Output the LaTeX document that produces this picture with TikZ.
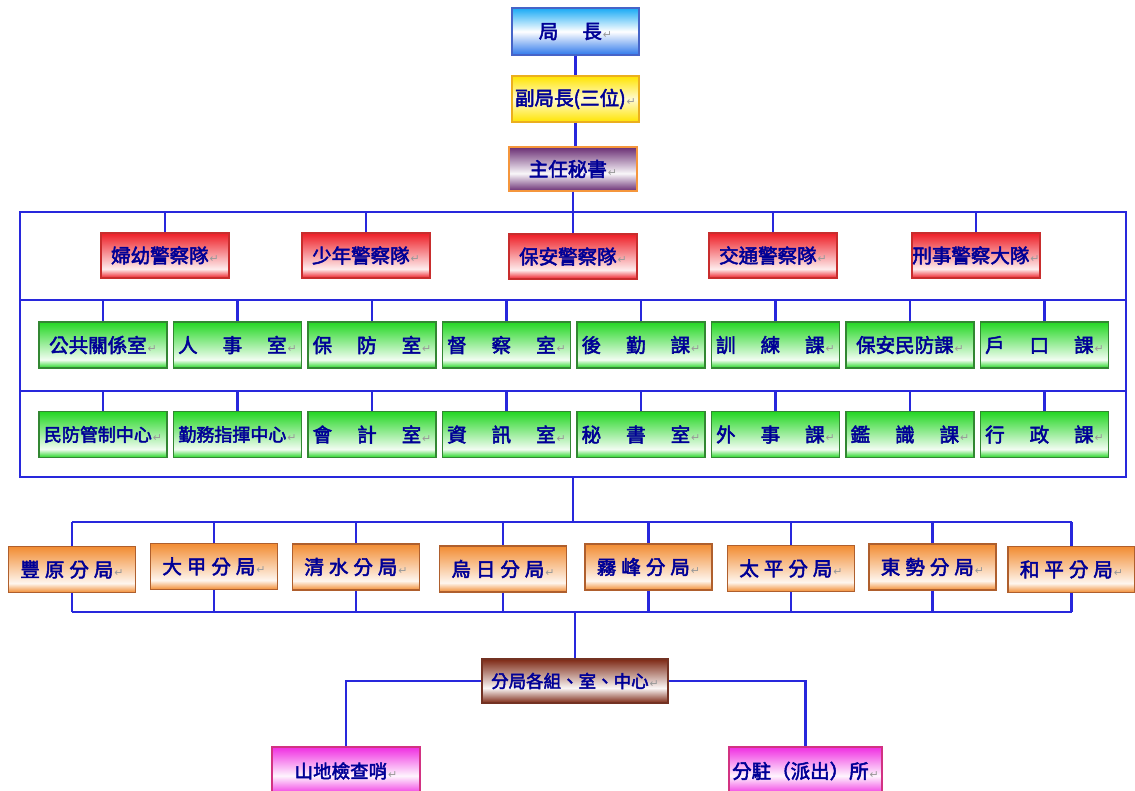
\documentclass[tikz,border=0pt]{standalone}
\usepackage{fontspec}
\newfontfamily\cjk{Noto Sans CJK TC}[FakeBold=2.6]
\newfontfamily\dvfont{DejaVu Sans}
\definecolor{lnblue}{RGB}{40,40,220}
\definecolor{txtblue}{RGB}{0,0,150}
\definecolor{cRed}{RGB}{238,30,38}
\definecolor{cRedB}{RGB}{200,45,45}
\definecolor{cGreen}{RGB}{35,215,35}
\definecolor{cGreenB}{RGB}{50,135,50}
\definecolor{cOrange}{RGB}{242,140,50}
\definecolor{cOrangeB}{RGB}{175,95,45}
\definecolor{cBlueTop}{RGB}{25,170,245}
\definecolor{cBlueBot}{RGB}{45,120,235}
\definecolor{cBlueB}{RGB}{70,100,200}
\definecolor{cYellow}{RGB}{255,228,0}
\definecolor{cYellowB}{RGB}{235,175,30}
\definecolor{cPurple}{RGB}{105,45,115}
\definecolor{cPurpleB}{RGB}{245,150,60}
\definecolor{cBrown}{RGB}{125,40,20}
\definecolor{cBrownB}{RGB}{115,50,35}
\definecolor{cPink}{RGB}{240,45,225}
\definecolor{cPinkB}{RGB}{210,50,130}
\pgfdeclareverticalshading{shRed}{100bp}{color(0bp)=(cRed); color(25bp)=(cRed); color(35bp)=(cRed!8); color(75bp)=(cRed); color(100bp)=(cRed)}
\pgfdeclareverticalshading{shGreen}{100bp}{color(0bp)=(cGreen); color(25bp)=(cGreen); color(34bp)=(cGreen!6); color(75bp)=(cGreen); color(100bp)=(cGreen)}
\pgfdeclareverticalshading{shOrange}{100bp}{color(0bp)=(cOrange); color(25bp)=(cOrange); color(35bp)=(cOrange!8); color(75bp)=(cOrange); color(100bp)=(cOrange)}
\pgfdeclareverticalshading{shBlue}{100bp}{color(0bp)=(cBlueBot); color(25bp)=(cBlueBot); color(50bp)=(white); color(75bp)=(cBlueTop); color(100bp)=(cBlueTop)}
\pgfdeclareverticalshading{shYellow}{100bp}{color(0bp)=(cYellow); color(25bp)=(cYellow); color(50bp)=(cYellow!18); color(75bp)=(cYellow); color(100bp)=(cYellow)}
\pgfdeclareverticalshading{shPurple}{100bp}{color(0bp)=(cPurple); color(25bp)=(cPurple); color(45bp)=(cPurple!4); color(75bp)=(cPurple); color(100bp)=(cPurple)}
\pgfdeclareverticalshading{shBrown}{100bp}{color(0bp)=(cBrown); color(25bp)=(cBrown); color(42bp)=(cBrown!4); color(75bp)=(cBrown); color(100bp)=(cBrown)}
\pgfdeclareverticalshading{shPink}{100bp}{color(0bp)=(cPink); color(25bp)=(cPink); color(45bp)=(cPink!5); color(75bp)=(cPink); color(100bp)=(cPink)}
\newcommand\retmark{\hspace{1pt}{\dvfont\fontsize{11pt}{11pt}\selectfont\textcolor{gray!80}{↵}}}
\newcommand\lb[1]{#1\retmark}
\newcommand\gp{\hspace{25pt}}
\newcommand\og{\hspace{5pt}}
\tikzset{
  box/.style={draw, line width=1.3pt, inner sep=0pt, text=txtblue,
    font=\cjk\fontsize{19.5pt}{19.5pt}\selectfont},
  bluebox/.style={box, shading=shBlue, draw=cBlueB, minimum width=127pt, minimum height=47pt},
  yellowbox/.style={box, shading=shYellow, draw=cYellowB, minimum width=127pt, minimum height=46pt},
  purplebox/.style={box, shading=shPurple, draw=cPurpleB, minimum width=128pt, minimum height=44pt},
  redbox/.style={box, shading=shRed, draw=cRedB, minimum width=128pt, minimum height=45pt},
  greenbox/.style={box, shading=shGreen, draw=cGreenB, minimum width=128pt, minimum height=46pt},
  orangebox/.style={box, shading=shOrange, draw=cOrangeB, minimum width=127pt, minimum height=46pt},
  brownbox/.style={box, shading=shBrown, draw=cBrownB, minimum width=186pt, minimum height=44pt},
  pinkbox/.style={box, shading=shPink, draw=cPinkB, minimum height=48pt},
  conn/.style={draw=lnblue, line width=2.4pt},
  smalltxt/.style={font=\cjk\fontsize{18pt}{18pt}\selectfont}
}
\begin{document}
\begin{tikzpicture}[x=1pt,y=-1pt]
\useasboundingbox (0,0) rectangle (1135,790);
\fill[white] (0,0) rectangle (1135,790);
% top chain
\node[bluebox] (jz) at (575.5,31.5) {\lb{局\hspace{24pt}長}};
\node[yellowbox] (fjz) at (575.5,99) {\lb{副局長(三位)}};
\node[purplebox] (ms) at (573,169) {\lb{主任秘書}};
% frame
\coordinate (RTL) at (20,212);
\coordinate (RBR) at (1126,477);
\coordinate (D1L) at (20,300);
\coordinate (D1R) at (1126,300);
\coordinate (D2L) at (20,391);
\coordinate (D2R) at (1126,391);
\draw[conn] (RTL) rectangle (RBR);
\draw[conn] (D1L) -- (D1R);
\draw[conn] (D2L) -- (D2R);
% red row
\node[redbox] (r1) at (165,255.5) {\lb{婦幼警察隊}};
\node[redbox] (r2) at (366,255.5) {\lb{少年警察隊}};
\node[redbox] (r3) at (573,256.5) {\lb{保安警察隊}};
\node[redbox] (r4) at (773,255.5) {\lb{交通警察隊}};
\node[redbox] (r5) at (976,255.5) {\lb{刑事警察大隊}};
% green row 1
\node[greenbox] (g1) at (103,345) {\lb{公共關係室}};
\node[greenbox] (g2) at (237.5,345) {\lb{人\gp 事\gp 室}};
\node[greenbox] (g3) at (372,345) {\lb{保\gp 防\gp 室}};
\node[greenbox] (g4) at (506.5,345) {\lb{督\gp 察\gp 室}};
\node[greenbox] (g5) at (641,345) {\lb{後\gp 勤\gp 課}};
\node[greenbox] (g6) at (775.5,345) {\lb{訓\gp 練\gp 課}};
\node[greenbox] (g7) at (910,345) {\lb{保安民防課}};
\node[greenbox] (g8) at (1044.5,345) {\lb{戶\gp 口\gp 課}};
% green row 2
\node[greenbox,smalltxt] (h1) at (103,434.5) {\lb{民防管制中心}};
\node[greenbox,smalltxt] (h2) at (237.5,434.5) {\lb{勤務指揮中心}};
\node[greenbox] (h3) at (372,434.5) {\lb{會\gp 計\gp 室}};
\node[greenbox] (h4) at (506.5,434.5) {\lb{資\gp 訊\gp 室}};
\node[greenbox] (h5) at (641,434.5) {\lb{秘\gp 書\gp 室}};
\node[greenbox] (h6) at (775.5,434.5) {\lb{外\gp 事\gp 課}};
\node[greenbox] (h7) at (910,434.5) {\lb{鑑\gp 識\gp 課}};
\node[greenbox] (h8) at (1044.5,434.5) {\lb{行\gp 政\gp 課}};
% connectors top chain
\draw[conn] (jz.south) -- (fjz.north);
\draw[conn] (fjz.south) -- (fjz.south |- ms.north);
\draw[conn] (ms.south) -- (ms.south |- RTL);
\foreach \n in {r1,r2,r3,r4,r5} \draw[conn] (\n.north) -- (\n.north |- RTL);
\foreach \n in {g1,g2,g3,g4,g5,g6,g7,g8} \draw[conn] (\n.north) -- (\n.north |- D1L);
\foreach \n in {h1,h2,h3,h4,h5,h6,h7,h8} \draw[conn] (\n.north) -- (\n.north |- D2L);
% branch offices
\node[orangebox] (o1) at (72,569.5) {\lb{豐\og 原\og 分\og 局}};
\node[orangebox] (o2) at (214,566.5) {\lb{大\og 甲\og 分\og 局}};
\node[orangebox] (o3) at (356,567) {\lb{清\og 水\og 分\og 局}};
\node[orangebox] (o4) at (503,569) {\lb{烏\og 日\og 分\og 局}};
\node[orangebox] (o5) at (648.5,567) {\lb{霧\og 峰\og 分\og 局}};
\node[orangebox] (o6) at (791,568.5) {\lb{太\og 平\og 分\og 局}};
\node[orangebox] (o7) at (932.5,567) {\lb{東\og 勢\og 分\og 局}};
\node[orangebox] (o8) at (1071.5,569.5) {\lb{和\og 平\og 分\og 局}};
\coordinate (RB) at (573,477);
\coordinate (BT) at (573,522);
\coordinate (BB) at (575,612);
\draw[conn] (RB) -- (BT);
\draw[conn] (o1.north |- BT) -- (o8.north |- BT);
\draw[conn] (o1.south |- BB) -- (o8.south |- BB);
\foreach \n in {o1,o2,o3,o4,o5,o6,o7,o8} {
  \draw[conn] (\n.north) -- (\n.north |- BT);
  \draw[conn] (\n.south) -- (\n.south |- BB);
}
% bottom
\node[brownbox,font=\cjk\fontsize{17.5pt}{17.5pt}\selectfont] (fj) at (575,681) {\lb{分局各組、室、中心}};
\node[pinkbox,minimum width=148pt,font=\cjk\fontsize{18.5pt}{18.5pt}\selectfont] (s1) at (346,771) {\lb{山地檢查哨}};
\node[pinkbox,minimum width=153pt] (s2) at (805.5,771) {\lb{分駐（派出）所}};
\draw[conn] (BB) -- (fj.north);
\draw[conn] (fj.west) -| (s1.north);
\draw[conn] (fj.east) -| (s2.north);
\end{tikzpicture}
\end{document}
